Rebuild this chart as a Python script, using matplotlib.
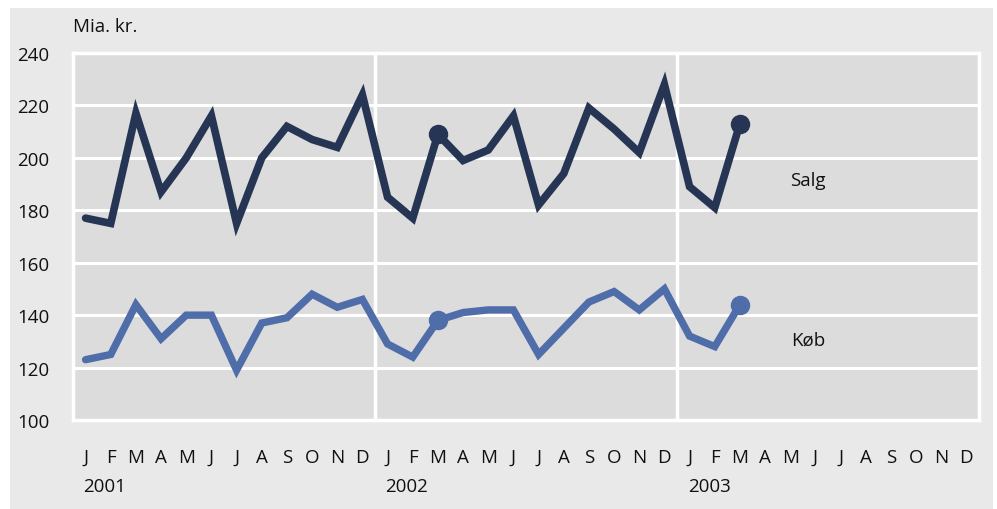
import matplotlib
matplotlib.use("Agg")
import matplotlib.pyplot as plt
from matplotlib.patches import Rectangle

plt.rcParams['font.family'] = ['Open Sans', 'DejaVu Sans']

months = ["J", "F", "M", "A", "M", "J", "J", "A", "S", "O", "N", "D"] * 3
years = ["2001", "2002", "2003"]
salg = [177, 175, 217, 187, 200, 216, 175, 200, 212, 207, 204, 224,
        185, 177, 209, 199, 203, 216, 182, 194, 219, 211, 202, 228,
        189, 181, 213]
kob = [123, 125, 144, 131, 140, 140, 119, 137, 139, 148, 143, 146,
       129, 124, 138, 141, 142, 142, 125, 135, 145, 149, 142, 150,
       132, 128, 144]
marker_idx = [14, 26]
yticks = [100, 120, 140, 160, 180, 200, 220, 240]

FS = 13.5
W, H = 997, 510
fig = plt.figure(figsize=(W / 100, H / 100), dpi=100)
fig.patch.set_facecolor("white")
fig.patches.append(Rectangle((10 / W, 0), (993 - 10) / W, (H - 9) / H,
                             transform=fig.transFigure, facecolor="#e9e9e9",
                             edgecolor="none", zorder=-10))

ax = fig.add_axes([73 / W, (H - 421) / H, (979 - 73) / W, (421 - 54) / H])
ax.set_zorder(1)
ax.set_facecolor("#dcdcdc")
ax.set_xlim(-0.5, 35.5)
ax.set_ylim(100, 240)

for s in ax.spines.values():
    s.set_color("white")
    s.set_linewidth(2.5)

ax.set_yticks(yticks)
ax.set_yticklabels([str(v) for v in yticks])
ax.yaxis.grid(True, color="white", linewidth=2.2)
ax.set_axisbelow(True)
for xv in [11.5, 23.5]:
    ax.axvline(xv, color="white", linewidth=2.5, zorder=1)

ax.set_xticks(range(36))
ax.set_xticklabels(months)
ax.tick_params(axis="both", length=0, labelsize=FS, colors="#111111")
ax.tick_params(axis="x", pad=20)
ax.tick_params(axis="y", pad=17)

x = list(range(len(salg)))
ax.plot(x, salg, color="#253553", linewidth=5.5, solid_joinstyle="miter",
        solid_capstyle="round", zorder=3)
ax.plot(x, kob, color="#4f6da8", linewidth=5.3, solid_joinstyle="miter",
        solid_capstyle="round", zorder=3)
ax.plot(marker_idx, [salg[i] for i in marker_idx], "o", color="#253553",
        markersize=13, zorder=4)
ax.plot(marker_idx, [kob[i] for i in marker_idx], "o", color="#4f6da8",
        markersize=13, zorder=4)

ax.text(28.7, 191.5, "Salg", fontsize=FS, ha="center", va="center", color="#111111")
ax.text(28.7, 130.5, "Køb", fontsize=FS, ha="center", va="center", color="#111111")

for i, yr in enumerate(years):
    fig.text((83 + i * 302.5) / W, (H - 487) / H, yr, fontsize=FS,
             ha="left", va="center", color="#111111")

fig.text(73 / W, (H - 27) / H, "Mia. kr.", fontsize=FS, ha="left",
         va="center", color="#111111")

fig.savefig("out.png", dpi=100, facecolor=fig.get_facecolor())
